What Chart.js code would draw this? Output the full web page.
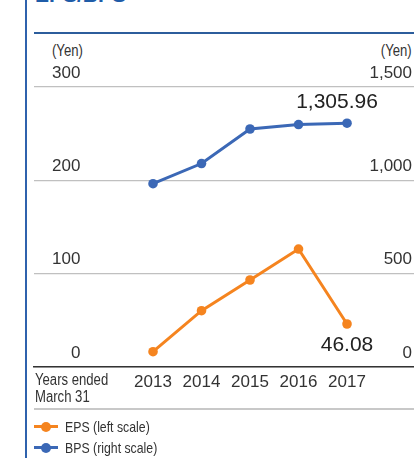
<!DOCTYPE html>
<html>
<head>
<meta charset="utf-8">
<script src="https://cdn.jsdelivr.net/npm/chart.js@4.4.1/dist/chart.umd.min.js"></script>
<style>
  html, body { margin: 0; padding: 0; background: #fff; }
  body { width: 414px; height: 458px; position: relative; overflow: hidden; font-family: "Liberation Sans", Arial, sans-serif; color: #333; }
  #c { position: absolute; left: 0; top: 0; }
  .abs { position: absolute; white-space: nowrap; }
  .narrow { transform: scaleX(0.82); transform-origin: 0 0; }
  .narrowR { transform: scaleX(0.82); transform-origin: 100% 0; }
  .title { left: 35px; top: -16px; font-weight: bold; font-size: 21px; line-height: 22px; color: #1f5ca8; }
  .vline { left: 25px; top: 0; width: 2px; height: 458px; background: #2f62ad; }
  .topline { left: 34px; top: 32px; width: 380px; height: 2px; background: #2c5d9c; }
  .sep { left: 34px; top: 408px; width: 380px; height: 2px; background: #c8c8c8; }
  .yen { font-size: 16px; line-height: 18px; top: 42px; }
  .years { left: 35px; top: 371px; font-size: 16px; line-height: 17px; }
  .leg { left: 34px; height: 20px; width: 200px; }
  .leg .ln { position: absolute; left: 0; top: 8px; width: 24px; height: 3px; }
  .leg .dot { position: absolute; left: 7px; top: 5px; width: 10px; height: 10px; border-radius: 50%; }
  .leg .tx { position: absolute; left: 31px; top: 0; font-size: 15px; line-height: 20px; }
</style>
</head>
<body>
<div class="abs title">EPS/BPS</div>
<div class="abs vline"></div>
<div class="abs topline"></div>
<div class="abs yen narrow" style="left:52px;">(Yen)</div>
<div class="abs yen narrowR" style="right:2px;">(Yen)</div>
<canvas id="c" width="414" height="458"></canvas>
<div class="abs years narrow">Years ended<br>March 31</div>
<div class="abs sep"></div>
<div class="abs leg" style="top:417px;"><div class="ln" style="background:#f5841f"></div><div class="dot" style="background:#f5841f"></div><div class="tx narrow">EPS (left scale)</div></div>
<div class="abs leg" style="top:438px;"><div class="ln" style="background:#3b68b6"></div><div class="dot" style="background:#3b68b6"></div><div class="tx narrow">BPS (right scale)</div></div>
<script>
const years = [2013, 2014, 2015, 2016, 2017];
const eps = [16.4, 60.3, 93.2, 126.4, 46.08];
const bps = [982, 1090, 1275, 1299, 1305.96];
const leftTicks = [0, 100, 200, 300];
const rightTicks = [0, 500, 1000, 1500];

const ORANGE = '#f5841f';
const BLUE = '#3b68b6';
const numFont = '"Liberation Sans", Arial, sans-serif';

const valueLabels = {
  id: 'valueLabels',
  afterDatasetsDraw(chart) {
    const ctx = chart.ctx;
    ctx.save();
    ctx.font = '21px ' + numFont;
    ctx.fillStyle = '#222';
    ctx.textAlign = 'center';
    ctx.textBaseline = 'middle';
    const fmt = v => v.toLocaleString('en-US', {minimumFractionDigits: 2, maximumFractionDigits: 2});
    const bMeta = chart.getDatasetMeta(1);
    const bLast = bMeta.data[bMeta.data.length - 1];
    ctx.fillText(fmt(bps[bps.length - 1]), bLast.x - 10, bLast.y - 21);
    const eMeta = chart.getDatasetMeta(0);
    const eLast = eMeta.data[eMeta.data.length - 1];
    ctx.fillText(fmt(eps[eps.length - 1]), eLast.x, eLast.y + 21);
    ctx.restore();
  }
};

new Chart(document.getElementById('c'), {
  type: 'line',
  data: {
    datasets: [
      {
        label: 'EPS (left scale)',
        data: years.map((y, i) => ({x: y, y: eps[i]})),
        yAxisID: 'yL',
        borderColor: ORANGE, backgroundColor: ORANGE,
        pointBackgroundColor: ORANGE, pointBorderWidth: 0,
        borderWidth: 3, pointRadius: 4.8, tension: 0
      },
      {
        label: 'BPS (right scale)',
        data: years.map((y, i) => ({x: y, y: bps[i]})),
        yAxisID: 'yR',
        borderColor: BLUE, backgroundColor: BLUE,
        pointBackgroundColor: BLUE, pointBorderWidth: 0,
        borderWidth: 3, pointRadius: 4.8, tension: 0
      }
    ]
  },
  options: {
    responsive: false,
    animation: false,
    devicePixelRatio: 1,
    layout: { autoPadding: false, padding: { top: 87, left: 34, right: 0, bottom: 0 } },
    plugins: { legend: { display: false }, tooltip: { enabled: false } },
    scales: {
      x: {
        type: 'linear',
        min: 2010.546, max: 2018.381,
        afterBuildTicks: s => { s.ticks = years.map(v => ({value: v})); },
        afterFit: s => { s.height = 91; },
        grid: { display: false, drawTicks: false },
        border: { display: true, color: '#333', width: 1.5 },
        ticks: {
          padding: 5,
          color: '#333',
          font: { family: numFont, size: 17 },
          callback: v => String(v),
          maxRotation: 0, autoSkip: false
        }
      },
      yL: {
        type: 'linear', position: 'left',
        min: 0, max: 300,
        afterBuildTicks: s => { s.ticks = leftTicks.map(v => ({value: v})); },
        afterFit: s => { s.width = 0; },
        grid: { color: '#c0c0c0', lineWidth: 1.2, drawTicks: false },
        border: { display: false },
        ticks: {
          mirror: true, crossAlign: 'far', padding: 18, labelOffset: -14,
          color: '#333', font: { family: numFont, size: 17 },
          callback: v => String(v)
        }
      },
      yR: {
        type: 'linear', position: 'right',
        min: 0, max: 1500,
        afterBuildTicks: s => { s.ticks = rightTicks.map(v => ({value: v})); },
        afterFit: s => { s.width = 0; },
        grid: { display: false, drawTicks: false },
        border: { display: false },
        ticks: {
          mirror: true, padding: -2, labelOffset: -14,
          color: '#333', font: { family: numFont, size: 17 },
          callback: v => v.toLocaleString('en-US')
        }
      }
    }
  },
  plugins: [valueLabels]
});
</script>
</body>
</html>
